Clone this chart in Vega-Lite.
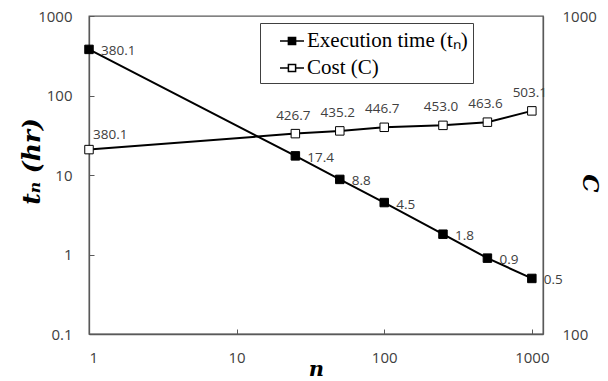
{
  "$schema": "https://vega.github.io/schema/vega-lite/v6.json",
  "width": 454,
  "height": 318,
  "autosize": {"type": "none"},
  "padding": {"left": 89, "top": 16, "right": 65, "bottom": 47},
  "config": {
    "view": {"stroke": "#595959", "strokeWidth": 1.3},
    "axis": {"grid": false, "domainColor": "#595959", "domainWidth": 1.3, "tickColor": "#595959", "labelColor": "#404040", "labelFont": "Open Sans", "labelFontSize": 15, "titleColor": "black"}
  },
  "data": {
    "values": [
      {"n": 1, "series": "Execution time (tₙ)", "value": 380.1},
      {"n": 25, "series": "Execution time (tₙ)", "value": 17.4},
      {"n": 50, "series": "Execution time (tₙ)", "value": 8.8},
      {"n": 100, "series": "Execution time (tₙ)", "value": 4.5},
      {"n": 250, "series": "Execution time (tₙ)", "value": 1.8},
      {"n": 500, "series": "Execution time (tₙ)", "value": 0.9},
      {"n": 1000, "series": "Execution time (tₙ)", "value": 0.5},
      {"n": 1, "series": "Cost (C)", "value": 380.1},
      {"n": 25, "series": "Cost (C)", "value": 426.7},
      {"n": 50, "series": "Cost (C)", "value": 435.2},
      {"n": 100, "series": "Cost (C)", "value": 446.7},
      {"n": 250, "series": "Cost (C)", "value": 453.0},
      {"n": 500, "series": "Cost (C)", "value": 463.6},
      {"n": 1000, "series": "Cost (C)", "value": 503.1}
    ]
  },
  "layer": [
    {
      "transform": [{"filter": "datum.series === 'Execution time (tₙ)'"}],
      "encoding": {
        "x": {"field": "n", "type": "quantitative", "scale": {"type": "log", "domain": [1, 1190], "nice": false},
          "axis": {"values": [1, 10, 100, 1000], "format": "~g", "tickSize": -5, "labelPadding": 21, "title": "n", "titleFont": "DejaVu Serif", "titleFontWeight": "bold", "titleFontStyle": "italic", "titleFontSize": 21, "titleY": 41, "titleBaseline": "alphabetic"}},
        "y": {"field": "value", "type": "quantitative", "scale": {"type": "log", "domain": [0.1, 1000], "nice": false},
          "axis": {"orient": "left", "values": [0.1, 1, 10, 100, 1000], "format": "~g", "tickSize": -5, "labelPadding": 22, "title": "tₙ (hr)", "titleFont": "DejaVu Serif", "titleFontWeight": "bold", "titleFontStyle": "italic", "titleFontSize": 25, "titleAngle": -90, "titleX": -50, "titleY": 145, "titleBaseline": "alphabetic", "titleAlign": "center"}}
      },
      "layer": [
        {"mark": {"type": "line", "color": "black", "strokeWidth": 2}},
        {"mark": {"type": "point", "shape": "square", "filled": true, "size": 72, "stroke": "black", "strokeWidth": 1, "opacity": 1},
          "encoding": {"fill": {"field": "series", "type": "nominal",
            "scale": {"domain": ["Execution time (tₙ)", "Cost (C)"], "range": ["black", "white"]},
            "legend": {"orient": "none", "legendX": 171, "legendY": 7, "title": null, "symbolType": "M-1,0H-0.3M0.3,0H1M-0.3,-0.3H0.3V0.3H-0.3Z", "symbolSize": 576, "symbolStrokeWidth": 1.5, "symbolStrokeColor": "black", "symbolOffset": 14, "labelFont": "Liberation Serif", "labelFontSize": 21, "labelColor": "black", "labelOffset": 2, "labelLimit": 400, "strokeColor": "#404040", "fillColor": "white", "padding": 5, "rowPadding": 4}}}},
        {"mark": {"type": "text", "align": "left", "baseline": "middle", "dx": 12, "dy": 2, "fontSize": 13.5, "color": "#404040", "font": "Open Sans"},
          "encoding": {"text": {"field": "value", "type": "quantitative", "format": ".1f"}}}
      ]
    },
    {
      "transform": [{"filter": "datum.series === 'Cost (C)'"}],
      "encoding": {
        "x": {"field": "n", "type": "quantitative", "scale": {"type": "log", "domain": [1, 1190], "nice": false}},
        "y": {"field": "value", "type": "quantitative", "scale": {"type": "log", "domain": [100, 1000], "nice": false},
          "axis": {"orient": "right", "values": [100, 1000], "format": "~g", "ticks": false, "labelPadding": 19, "labelAlign": "left", "title": "C", "titleFont": "DejaVu Serif", "titleFontWeight": "bold", "titleFontStyle": "italic", "titleFontSize": 23, "titleAngle": 90, "titleX": 39, "titleY": 167, "titleBaseline": "alphabetic", "titleAlign": "center"}}
      },
      "layer": [
        {"mark": {"type": "line", "color": "black", "strokeWidth": 2}},
        {"mark": {"type": "point", "shape": "square", "filled": true, "size": 72, "stroke": "black", "strokeWidth": 1, "opacity": 1},
          "encoding": {"fill": {"field": "series", "type": "nominal",
            "scale": {"domain": ["Execution time (tₙ)", "Cost (C)"], "range": ["black", "white"]}}}},
        {"transform": [{"filter": "datum.n > 1"}],
          "mark": {"type": "text", "align": "center", "baseline": "middle", "dx": -2, "dy": -18, "fontSize": 13.5, "color": "#404040", "font": "Open Sans"},
          "encoding": {"text": {"field": "value", "type": "quantitative", "format": ".1f"}}},
        {"transform": [{"filter": "datum.n == 1"}],
          "mark": {"type": "text", "align": "left", "baseline": "middle", "dx": 4, "dy": -15, "fontSize": 13.5, "color": "#404040", "font": "Open Sans"},
          "encoding": {"text": {"field": "value", "type": "quantitative", "format": ".1f"}}}
      ]
    }
  ],
  "resolve": {"scale": {"y": "independent"}}
}
